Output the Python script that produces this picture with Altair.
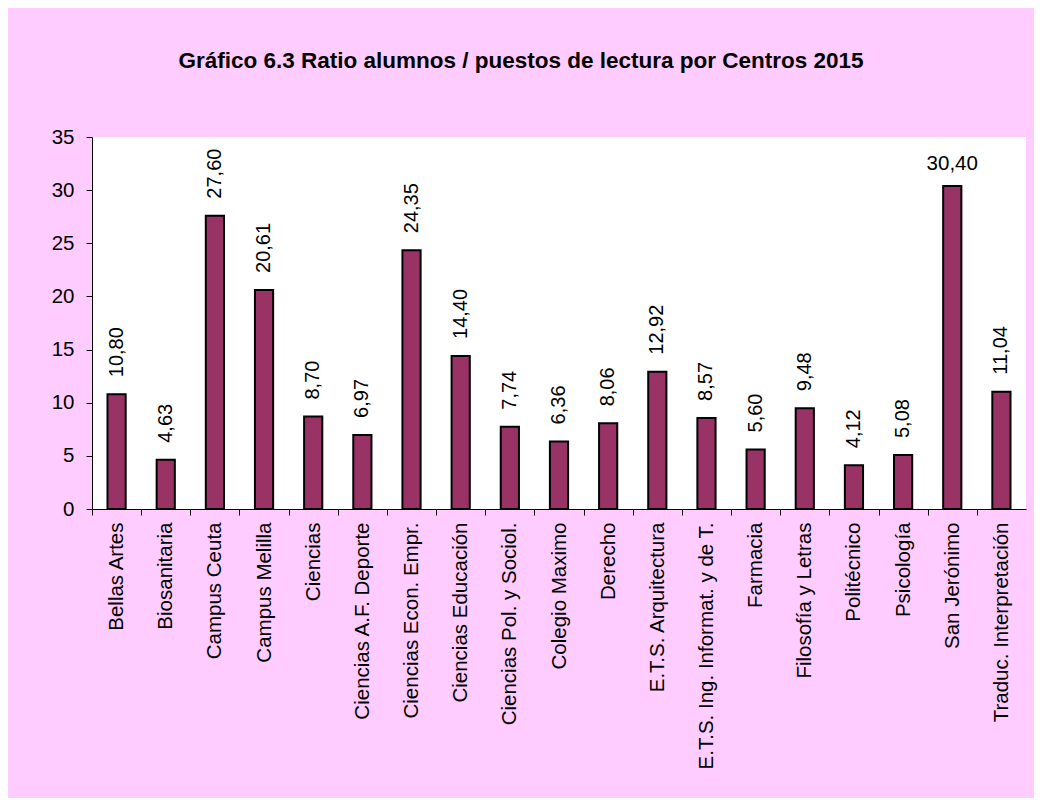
import altair as alt
import pandas as pd

centros = [
    "Bellas Artes", "Biosanitaria", "Campus Ceuta", "Campus Melilla", "Ciencias",
    "Ciencias A.F. Deporte", "Ciencias Econ. Empr.", "Ciencias Educación",
    "Ciencias Pol. y Sociol.", "Colegio Maximo", "Derecho", "E.T.S. Arquitectura",
    "E.T.S. Ing. Informat. y de T.", "Farmacia", "Filosofía y Letras", "Politécnico",
    "Psicología", "San Jerónimo", "Traduc. Interpretación",
]
ratios = [10.80, 4.63, 27.60, 20.61, 8.70, 6.97, 24.35, 14.40, 7.74, 6.36,
          8.06, 12.92, 8.57, 5.60, 9.48, 4.12, 5.08, 30.40, 11.04]
y_ticks = [0, 5, 10, 15, 20, 25, 30, 35]

df = pd.DataFrame({"centro": centros, "ratio": ratios})

W, H = 934, 372
n = len(centros)
step = W / n
FONT = "Liberation Sans"

xenc = alt.X(
    "centro:N", sort=None, title=None,
    scale=alt.Scale(paddingInner=0.63, paddingOuter=0.315),
    axis=alt.Axis(
        labelAngle=-90, labelFontSize=20.5, labelFont=FONT, labelColor="black",
        labelPadding=7, tickSize=6, tickColor="black", domainColor="black",
        tickOffset=-step / 2, labelOffset=step / 2, labelLimit=400,
    ),
)
yenc = alt.Y(
    "ratio:Q", title=None,
    scale=alt.Scale(domain=[0, 35], nice=False),
    axis=alt.Axis(
        values=y_ticks, grid=False, labelFontSize=20.5, labelFont=FONT,
        labelColor="black", labelPadding=12, tickSize=6, tickColor="black",
        domainColor="black",
    ),
)

base = alt.Chart(df).encode(x=xenc, y=yenc)

bars = base.mark_bar(color="#993366", stroke="black", strokeWidth=2)

labels = base.transform_calculate(
    lbl="replace(format(datum.ratio, '.2f'), '.', ',')"
)

rot = labels.transform_filter("datum.ratio < 29").mark_text(
    angle=270, align="left", baseline="middle", dx=17, fontSize=20,
    font=FONT, color="black",
).encode(text="lbl:N")

hor = labels.transform_filter("datum.ratio >= 29").mark_text(
    align="center", baseline="alphabetic", dy=-16, fontSize=20.5,
    font=FONT, color="black",
).encode(text="lbl:N")

chart = (
    alt.layer(bars, rot, hor)
    .properties(
        width=W, height=H,
        title=alt.TitleParams(
            "Gráfico 6.3 Ratio alumnos / puestos de lectura por Centros 2015",
            fontSize=22.5, fontWeight="bold", font=FONT, color="black",
            anchor="middle", baseline="alphabetic", offset=37, dx=-38,
        ),
        autosize=alt.AutoSizeParams(type="none"),
        padding={"left": 84, "top": 129, "right": 8, "bottom": 289},
        background="#FFCCFF",
    )
    .configure_view(fill="white", strokeWidth=0)
)

chart.save("out.html", embed_options={"renderer": "svg", "actions": False})
